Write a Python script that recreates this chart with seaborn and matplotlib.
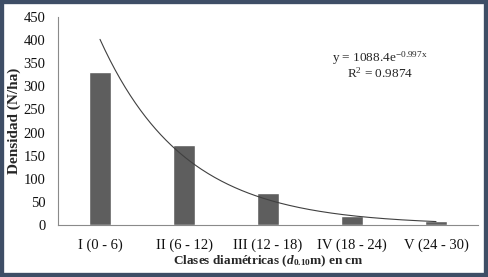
import numpy as np
import pandas as pd
import matplotlib
matplotlib.use("Agg")
import matplotlib.pyplot as plt
import seaborn as sns
from matplotlib.patches import Rectangle

categories = ["I (0 - 6)", "II (6 - 12)", "III (12 - 18)", "IV (18 - 24)", "V (24 - 30)"]
densidad = [331, 173, 69, 19, 8]
trend_a = 1088.4
trend_b = -0.997
yticks = [0, 50, 100, 150, 200, 250, 300, 350, 400, 450]

sns.set_theme(style="white")
plt.rcParams['font.family'] = ['Liberation Serif', 'DejaVu Serif']
plt.rcParams['mathtext.fontset'] = 'custom'
plt.rcParams['mathtext.rm'] = 'Liberation Serif'
plt.rcParams['mathtext.it'] = 'Liberation Serif:italic'
plt.rcParams['mathtext.bf'] = 'Liberation Serif:bold'
plt.rcParams['mathtext.bfit'] = 'Liberation Serif:bold:italic'

fig = plt.figure(figsize=(4.88, 2.77), dpi=100)
ax = fig.add_axes([58/488, 1-225/277, 420/488, 208/277])

df = pd.DataFrame({"clase": categories, "dens": densidad})
sns.barplot(data=df, x="clase", y="dens", color="#5e5e5e", saturation=1,
            width=0.27, ax=ax)

xs = np.linspace(1, 5, 200)
ys = trend_a * np.exp(trend_b * xs)
sns.lineplot(x=xs - 1, y=ys, color="#404040", linewidth=0.8, ax=ax)

ax.set_xlim(-0.5, 4.5)
ax.set_ylim(0, 450)
ax.set_yticks(yticks)
ax.tick_params(axis='y', length=0, labelsize=10.5, colors="#111111", pad=9)
ax.tick_params(axis='x', length=0, labelsize=10.5, colors="#111111", pad=10)
for s in ["top", "right"]:
    ax.spines[s].set_visible(False)
for s in ["left", "bottom"]:
    ax.spines[s].set_color("#8a8a8a")
    ax.spines[s].set_linewidth(0.8)

ax.set_ylabel("Densidad (N/ha)", fontsize=11, fontweight="bold")
ax.yaxis.set_label_coords((21 - 58) / 420, 0.5)
ax.set_xlabel(r"Clases diamétricas ($\boldsymbol{d}_{\mathbf{0.10}}$m) en cm",
              fontsize=9.5, fontweight="bold")
ax.xaxis.set_label_coords(0.5, -(254 - 225) / 208)

fig.text(380/488, 1-58/277, r"y = 1088.4e$^{\mathrm{-0.997x}}$", ha="center", va="center",
         fontsize=9.5)
fig.text(380/488, 1-73/277, r"R$^{2}$ = 0.9874", ha="center", va="center",
         fontsize=9.5)

fig.patches.append(Rectangle((0, 0), 1, 1, transform=fig.transFigure,
                             fill=False, edgecolor="#3e4e66", linewidth=6))

fig.savefig("out.png", dpi=100)
